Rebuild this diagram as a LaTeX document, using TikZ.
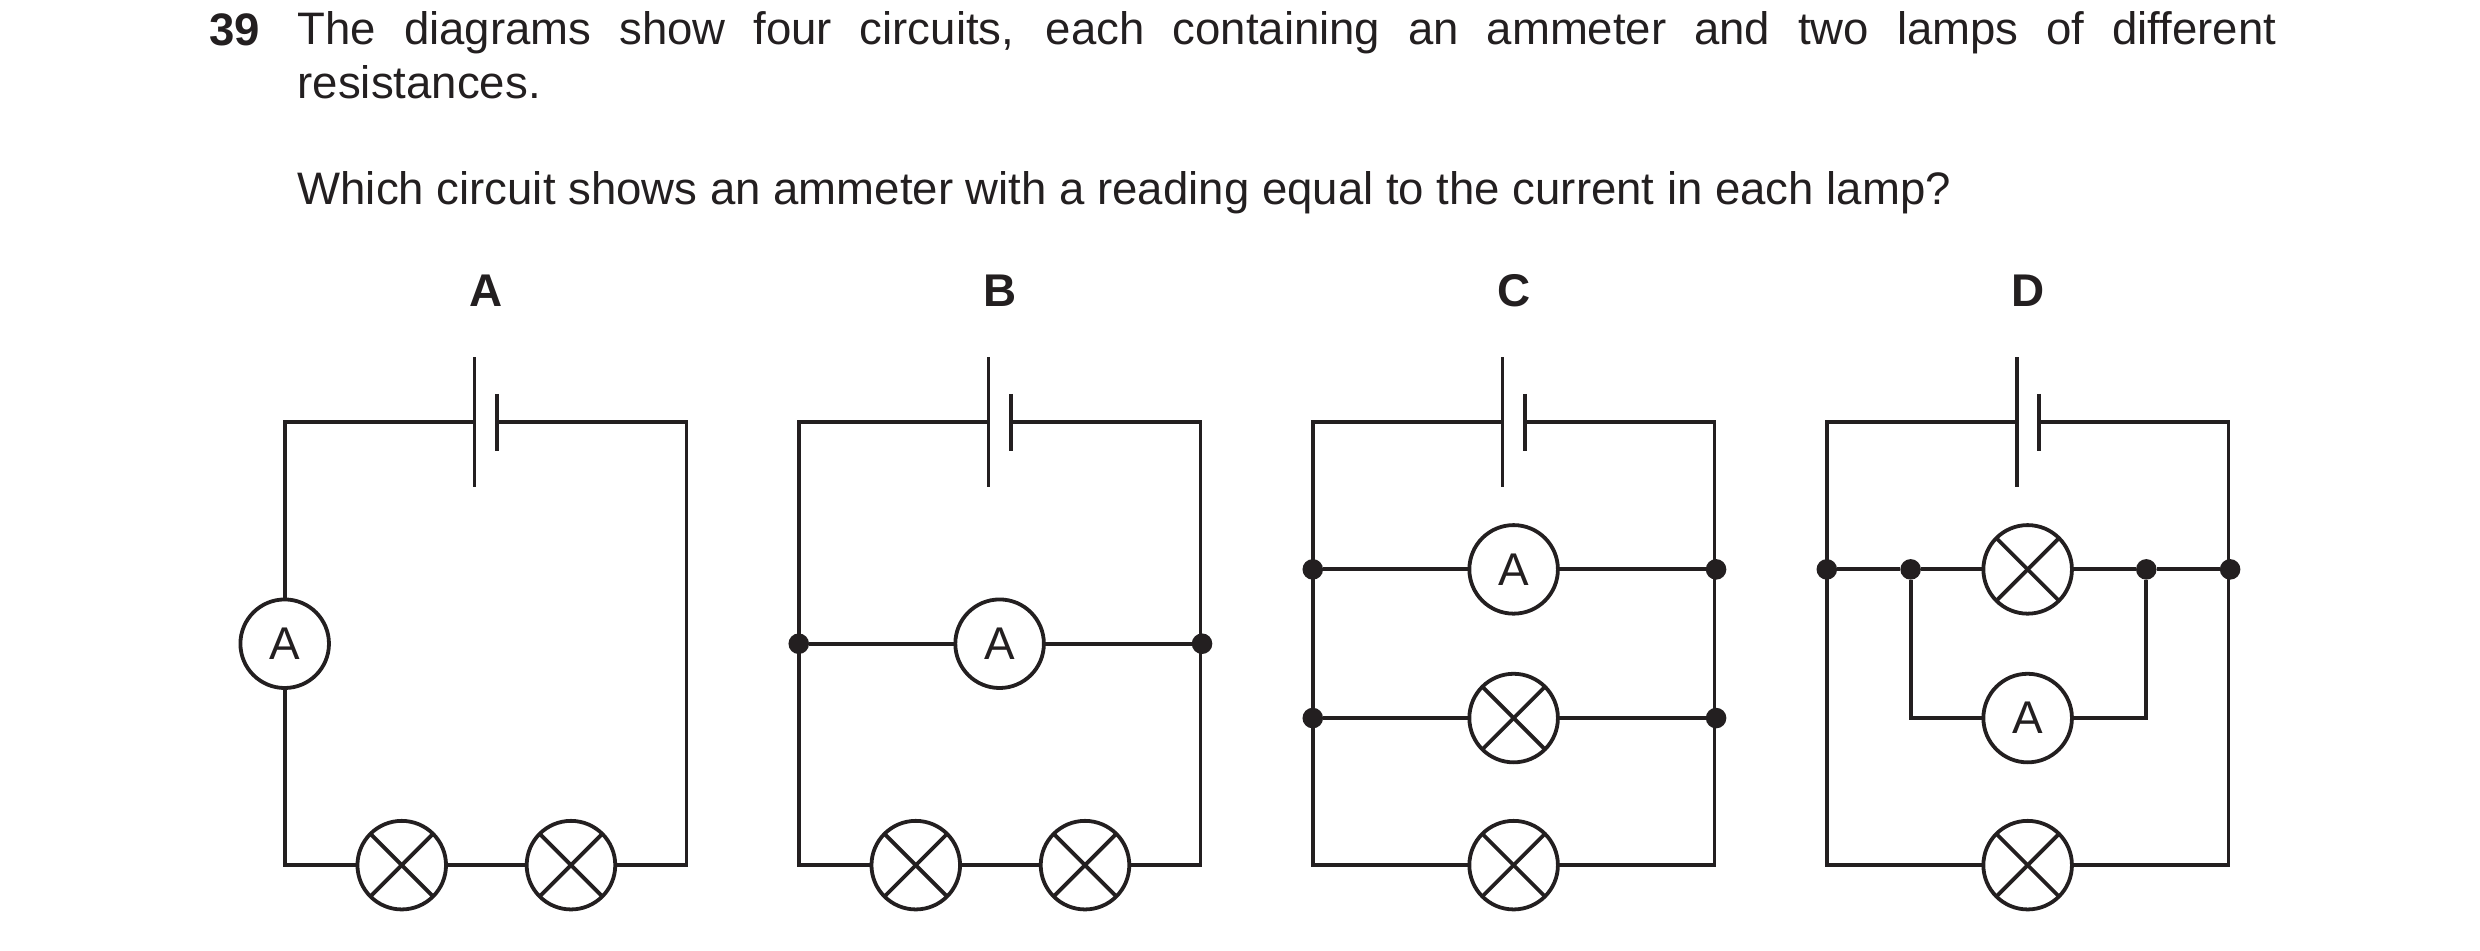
\documentclass[tikz,border=0pt]{standalone}
\usepackage{fontspec}
\setmainfont{Liberation Sans}
\begin{document}
\begin{tikzpicture}[x=1pt,y=-1pt,line width=2.4pt,line join=miter,
  meter/.style={circle,draw,fill=white,minimum size=56pt,inner sep=0pt,outer sep=0pt,font=\fontsize{29}{30}\selectfont},
  lamp/.style={circle,draw,fill=white,minimum size=56pt,inner sep=0pt,outer sep=0pt,
    path picture={\draw ([shift={(45:28)}]path picture bounding box.center)--([shift={(225:28)}]path picture bounding box.center);
                  \draw ([shift={(135:28)}]path picture bounding box.center)--([shift={(315:28)}]path picture bounding box.center);}},
  dot/.style={circle,fill,inner sep=0pt,outer sep=0pt,minimum size=13pt},
  lbl/.style={font=\bfseries\fontsize{29}{30}\selectfont},
  txt/.style={font=\fontsize{28.8}{34}\selectfont,inner sep=0pt}]
\useasboundingbox (0,0) rectangle (1568,601);
\color[HTML]{231F20}
% text
\node[txt,anchor=base west,font=\bfseries\fontsize{28.8}{34}\selectfont] (q) at (131,29) {39};
\node[txt,anchor=north west,text width=1251pt,align=justify] (t1) at (187,6) {The diagrams show four circuits, each containing an ammeter and two lamps of different\linebreak resistances.};
\node[txt,anchor=base west] (t2) at (187,129) {Which circuit shows an ammeter with a reading equal to the current in each lamp?};
\foreach \n/\l in {a/180,b/505,c/830,d/1155}{
  \pgfmathsetmacro{\r}{\l+254}
  \pgfmathsetmacro{\p}{\l+120}
  \pgfmathsetmacro{\s}{\l+134}
  \coordinate (\n tl) at (\l,267);
  \coordinate (\n tr) at (\r,267);
  \coordinate (\n bl) at (\l,547);
  \coordinate (\n br) at (\r,547);
  \coordinate (\n p) at (\p,267);
  \coordinate (\n s) at (\s,267);
  \draw (\p,226) -- (\p,308);
  \draw (\s,249) -- (\s,285);
}
\node[lbl] (la) at (307,184) {A};
\node[lbl] (lb) at (632,184) {B};
\node[lbl] (lc) at (957,184) {C};
\node[lbl] (ld) at (1282,184) {D};
% circuit A
\node[meter] (aA) at (180,407) {A};
\node[lamp] (aL1) at (254,547) {};
\node[lamp] (aL2) at (361,547) {};
\draw (aA) -- (atl) -- (ap);
\draw (as) -- (atr) -- (abr) -- (aL2) -- (aL1) -- (abl) -- (aA);
% circuit B
\node[meter] (bA) at (632,407) {A};
\node[lamp] (bL1) at (579,547) {};
\node[lamp] (bL2) at (686,547) {};
\node[dot] (bd1) at (505,407) {};
\node[dot] (bd2) at (760,407) {};
\draw (bp) -- (btl) -- (bbl) -- (bL1) -- (bL2) -- (bbr) -- (btr) -- (bs);
\draw (bd1) -- (bA) -- (bd2);
% circuit C
\node[meter] (cA) at (957,360) {A};
\node[lamp] (cL1) at (957,454) {};
\node[lamp] (cL2) at (957,547) {};
\node[dot] (cd1) at (830,360) {};
\node[dot] (cd2) at (1085,360) {};
\node[dot] (cd3) at (830,454) {};
\node[dot] (cd4) at (1085,454) {};
\draw (cp) -- (ctl) -- (cbl) -- (cL2) -- (cbr) -- (ctr) -- (cs);
\draw (cd1) -- (cA) -- (cd2);
\draw (cd3) -- (cL1) -- (cd4);
% circuit D
\node[lamp] (dL1) at (1282,360) {};
\node[meter] (dA) at (1282,454) {A};
\node[lamp] (dL2) at (1282,547) {};
\node[dot] (dd1) at (1155,360) {};
\node[dot] (dd2) at (1208,360) {};
\node[dot] (dd3) at (1357,360) {};
\node[dot] (dd4) at (1410,360) {};
\coordinate (dc1) at (1208,454);
\coordinate (dc2) at (1357,454);
\draw (dp) -- (dtl) -- (dbl) -- (dL2) -- (dbr) -- (dtr) -- (ds);
\draw (dd1) -- (dd2) -- (dL1) -- (dd3) -- (dd4);
\draw (dd2) -- (dc1) -- (dA) -- (dc2) -- (dd3);
\end{tikzpicture}
\end{document}
